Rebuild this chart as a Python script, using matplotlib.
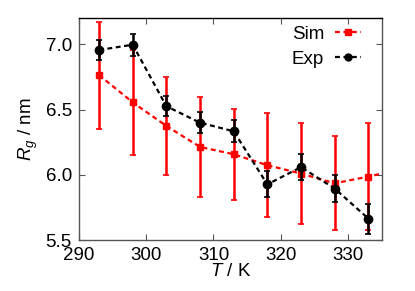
import numpy as np
import matplotlib
matplotlib.use("Agg")
import matplotlib.pyplot as plt
from matplotlib.lines import Line2D

plt.rcParams['font.family'] = ['Liberation Sans', 'DejaVu Sans']
plt.rcParams['mathtext.fontset'] = 'custom'
plt.rcParams['mathtext.rm'] = 'Liberation Sans'
plt.rcParams['mathtext.it'] = 'Liberation Sans:italic'

# simulation (last point lies just outside the axes, line runs to the edge)
T_sim = [293, 298, 303, 308, 313, 318, 323, 328, 333, 338]
rg_sim = [6.765, 6.556, 6.375, 6.214, 6.158, 6.074, 6.01, 5.935, 5.987, 6.045]
err_sim = [0.41, 0.40, 0.375, 0.38, 0.35, 0.40, 0.39, 0.36, 0.41, 0.40]

# experiment
T_exp = [293, 298, 303, 308, 313, 318, 323, 328, 333]
rg_exp = [6.957, 6.998, 6.526, 6.40, 6.334, 5.927, 6.059, 5.895, 5.665]
err_exp = [0.08, 0.085, 0.075, 0.08, 0.085, 0.10, 0.10, 0.105, 0.115]

dash = (0, (2.2, 1.6))

fig = plt.figure(figsize=(4.15, 2.91), dpi=100)
ax = fig.add_axes([0.19, 0.175, 0.73, 0.762])

ax.errorbar(T_sim, rg_sim, yerr=err_sim, color='#ff0000', ls=dash, lw=1.6,
            marker='s', ms=4.2, elinewidth=1.8, capsize=2, capthick=1.2, zorder=2)
ax.errorbar(T_exp, rg_exp, yerr=err_exp, color='black', ls=dash, lw=1.6,
            marker='o', ms=6, elinewidth=1.8, capsize=2, capthick=1.2, zorder=3)

ax.set_xlim(290, 335)
ax.set_ylim(5.5, 7.2)
ax.set_xticks([290, 300, 310, 320, 330])
ax.set_yticks([5.5, 6.0, 6.5, 7.0])
ax.yaxis.set_major_formatter(matplotlib.ticker.FormatStrFormatter('%.1f'))
ax.tick_params(direction='in', top=True, right=True, labelsize=13.5, length=4, color='#555555', pad=5)
for s in ax.spines.values():
    s.set_color('#555555')
    s.set_linewidth(1.0)
ax.spines['top'].set_color('black')

ax.set_xlabel('$T$ / K', fontsize=13.5, labelpad=-1)
ax.set_ylabel('$R_g$ / nm', fontsize=13.5, labelpad=4)

handles = [Line2D([], [], color='#ff0000', ls=dash, lw=1.6, marker='s', ms=4),
           Line2D([], [], color='black', ls=dash, lw=1.6, marker='o', ms=5)]
ax.legend(handles, ['Sim', 'Exp'], loc='upper right', frameon=False, markerfirst=False,
          fontsize=13.5, handlelength=1.35, handletextpad=0.6,
          borderaxespad=0, labelspacing=0.4, bbox_to_anchor=(0.955, 1.0))

fig.savefig('out.png', dpi=100)
